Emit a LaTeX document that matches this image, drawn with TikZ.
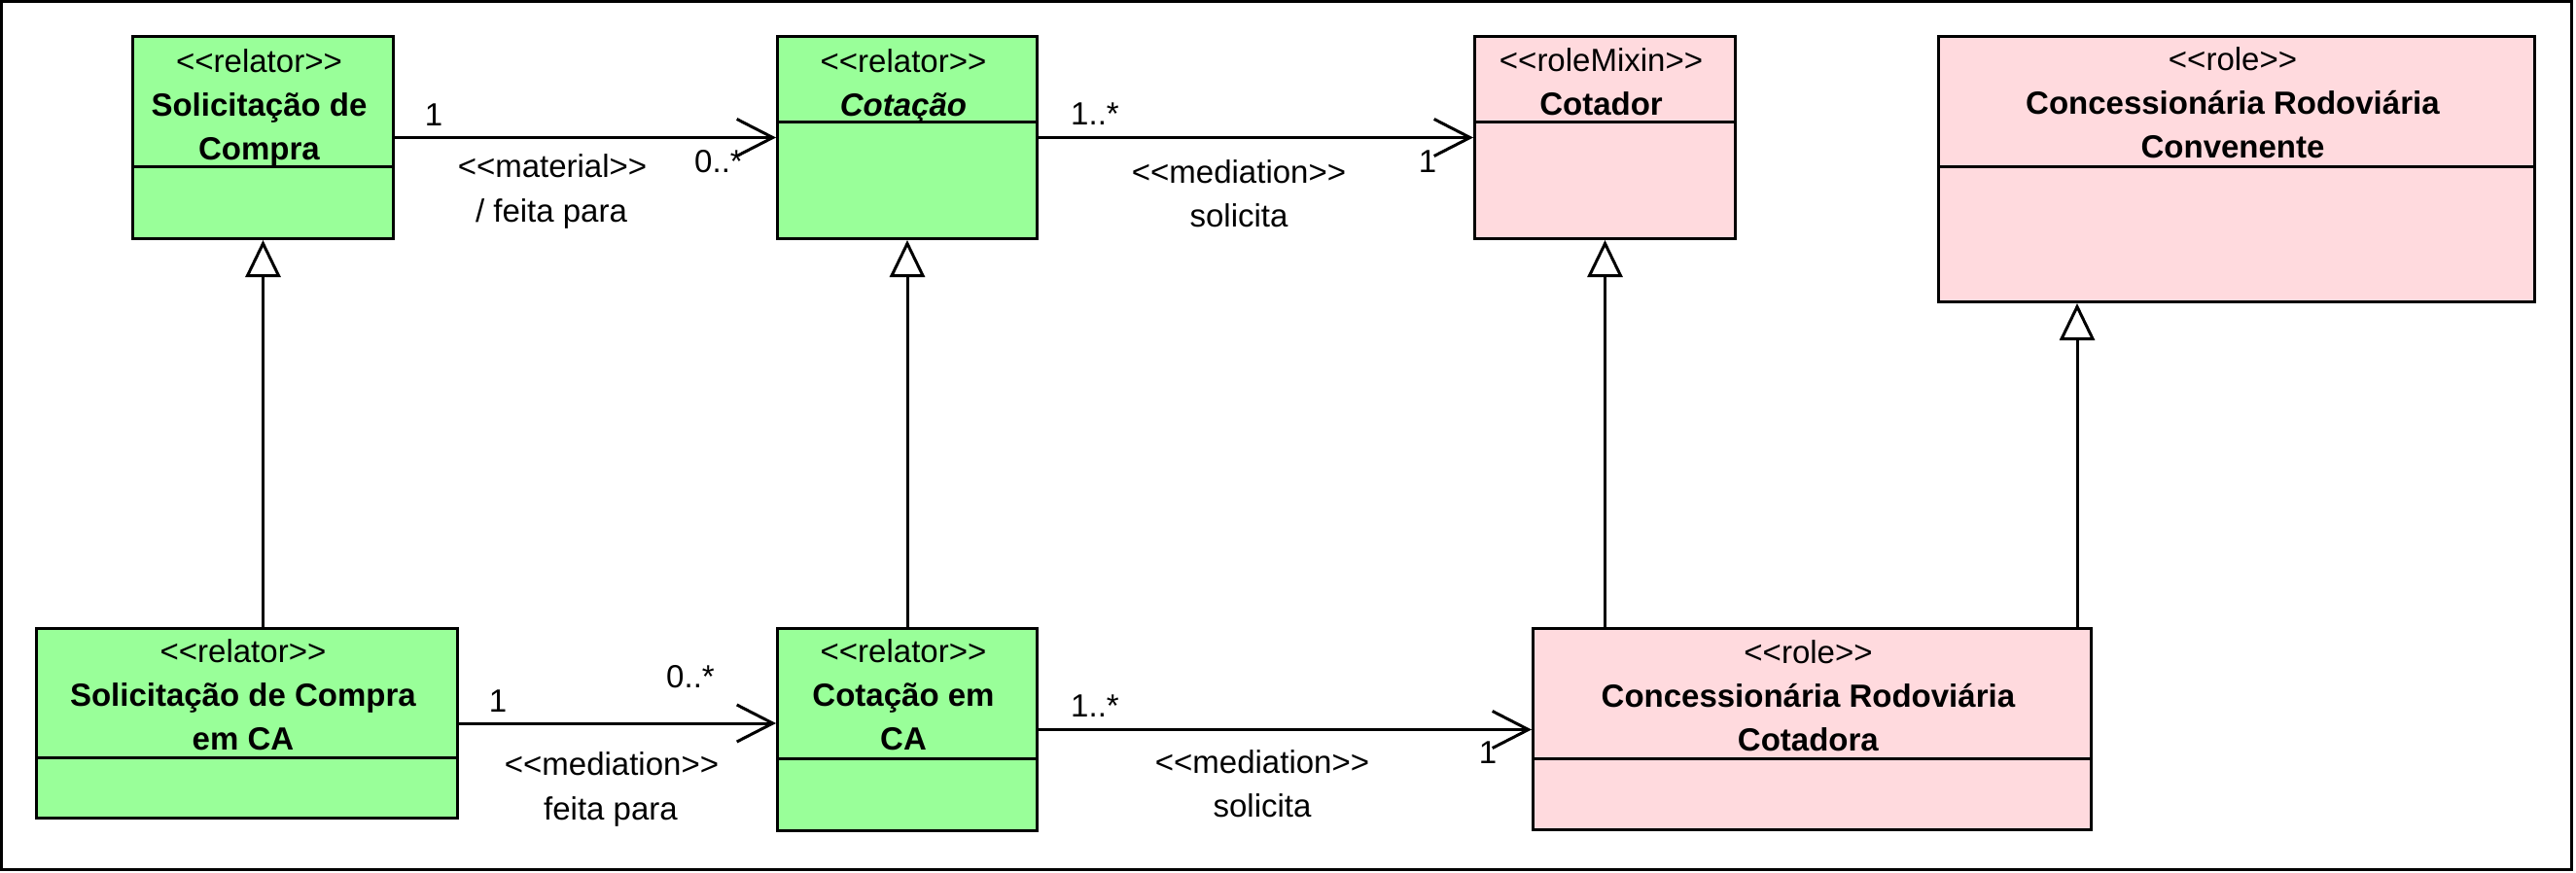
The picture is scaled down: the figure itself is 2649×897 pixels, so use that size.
\documentclass[tikz,border=0pt]{standalone}
\usepackage{fontspec}
\setmainfont{Liberation Sans}[Ligatures=TeXOff]
\usetikzlibrary{arrows.meta}
\definecolor{relgreen}{RGB}{153,255,153}
\definecolor{rolepink}{RGB}{255,218,222}
\newcommand{\stereo}[1]{\textless\kern0pt\textless #1\textgreater\kern0pt\textgreater}

\begin{document}
\begin{tikzpicture}[x=1pt, y=-1pt,
	every node/.style={font=\fontsize{33}{45}\selectfont},
	classbox/.style={draw, line width=3pt, anchor=north west, inner sep=0pt},
	relator/.style={classbox, fill=relgreen},
	role/.style={classbox, fill=rolepink},
	head/.style={align=center, inner sep=0pt, xshift=-4pt},
	lbl/.style={anchor=base, inner sep=0pt},
	assoc/.style={line width=3pt, -{Straight Barb[length=37pt, width=38pt]}},
	gen/.style={line width=3pt, -{Triangle[length=38pt, width=36pt, fill=white]}}]
	\useasboundingbox (0,0) rectangle (2649,897);
	\draw[line width=3pt] (1.5,1.5) rectangle (2644.5,894.5);

	% Solicitacao de Compra
	\node[relator, minimum width=268pt, minimum height=208pt] (sc) at (135,36) {};
	\node[head] (sc-t) at (sc.north |- 0,110.5) {\stereo{relator}\\\textbf{Solicitação de}\\\textbf{Compra}};
	\draw[line width=3pt] (sc.west |- 0,171.5) -- (sc.east |- 0,171.5);

	% Cotacao
	\node[relator, minimum width=267pt, minimum height=208pt] (cot) at (798,36) {};
	\node[head] (cot-t) at (cot.north |- 0,88) {\stereo{relator}\\\textbf{\itshape Cotação}};
	\draw[line width=3pt] (cot.west |- 0,125.5) -- (cot.east |- 0,125.5);

	% Cotador
	\node[role, minimum width=268pt, minimum height=208pt] (ctd) at (1515,36) {};
	\node[head] (ctd-t) at (ctd.north |- 0,84.5) {\stereo{roleMixin}\\\textbf{Cotador}};
	\draw[line width=3pt] (ctd.west |- 0,125.5) -- (ctd.east |- 0,125.5);

	% Concessionaria Rodoviaria Convenente
	\node[role, minimum width=613pt, minimum height=273pt] (ccv) at (1992,36) {};
	\node[head] (ccv-t) at (ccv.north |- 0,106) {\stereo{role}\\\textbf{Concessionária Rodoviária}\\\textbf{Convenente}};
	\draw[line width=3pt] (ccv.west |- 0,171.5) -- (ccv.east |- 0,171.5);

	% Solicitacao de Compra em CA
	\node[relator, minimum width=433pt, minimum height=195pt] (scca) at (36,645) {};
	\node[head] (scca-t) at (scca.north |- 0,715) {\stereo{relator}\\\textbf{Solicitação de Compra}\\\textbf{em CA}};
	\draw[line width=3pt] (scca.west |- 0,779.5) -- (scca.east |- 0,779.5);

	% Cotacao em CA
	\node[relator, minimum width=267pt, minimum height=208pt] (cotca) at (798,645) {};
	\node[head] (cotca-t) at (cotca.north |- 0,715) {\stereo{relator}\\\textbf{Cotação em}\\\textbf{CA}};
	\draw[line width=3pt] (cotca.west |- 0,780) -- (cotca.east |- 0,780);

	% Concessionaria Rodoviaria Cotadora
	\node[role, minimum width=574pt, minimum height=207pt] (ccc) at (1575,645) {};
	\node[head] (ccc-t) at (ccc.north |- 0,716) {\stereo{role}\\\textbf{Concessionária Rodoviária}\\\textbf{Cotadora}};
	\draw[line width=3pt] (ccc.west |- 0,780) -- (ccc.east |- 0,780);

	% associations
	\draw[assoc] (sc) -- (cot);
	\node[lbl] (sc-m1) at (446,129) {1};
	\node[lbl] (cot-m0) at (739,177) {0..*};
	\node[lbl] (mat) at (568,182) {\stereo{material}};
	\node[lbl] (mat-n) at (567,228) {/ feita para};

	\draw[assoc] (cot) -- (ctd);
	\node[lbl] (cot-m1) at (1126,128) {1..*};
	\node[lbl] (ctd-m1) at (1468,177) {1};
	\node[lbl] (med1) at (1274,188) {\stereo{mediation}};
	\node[lbl] (med1-n) at (1274,233) {solicita};

	\draw[assoc] (scca) -- (scca -| cotca.west);
	\node[lbl] (scca-m1) at (512,732) {1};
	\node[lbl] (cotca-m0) at (710,707) {0..*};
	\node[lbl] (med2) at (629,797) {\stereo{mediation}};
	\node[lbl] (med2-n) at (628,843) {feita para};

	\draw[assoc] (cotca) -- (cotca -| ccc.west);
	\node[lbl] (cotca-m1) at (1126,737) {1..*};
	\node[lbl] (ccc-m1) at (1530,785) {1};
	\node[lbl] (med3) at (1298,795) {\stereo{mediation}};
	\node[lbl] (med3-n) at (1298,840) {solicita};

	% generalizations
	\draw[gen] (sc.south |- scca.north) -- (sc.south);
	\draw[gen] (cotca) -- (cot);
	\draw[gen] (ctd.south |- ccc.north) -- (ctd.south);
	\coordinate (gd) at ([xshift=-16pt]ccc.north east);
	\draw[gen] (gd) -- (gd |- ccv.south);
\end{tikzpicture}
\end{document}
